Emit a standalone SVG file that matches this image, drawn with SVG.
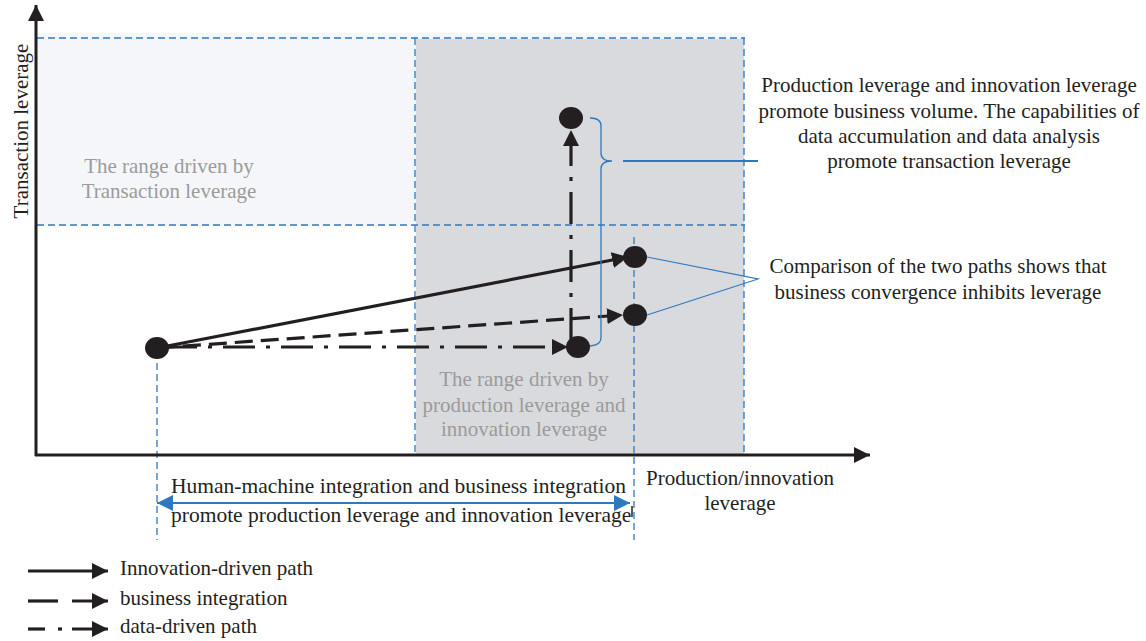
<svg xmlns="http://www.w3.org/2000/svg" width="1146" height="641" viewBox="0 0 1146 641">
  <style>
    text { font-family: "Liberation Serif", "Times New Roman", serif; font-size: 21px; fill: #231f20; }
    .muted { fill: #9b9b9b; }
    .mid { text-anchor: middle; }
    .wide { font-size: 21.5px; }
    .grid { fill: none; stroke: #2e78c2; stroke-width: 1.3; stroke-dasharray: 7 4; }
    .blue { fill: none; stroke: #2e78c2; }
    .axis { fill: none; stroke: #231f20; stroke-width: 3; }
    .path { fill: none; stroke: #231f20; stroke-width: 3.2; }
    .dash { stroke-dasharray: 18 8; }
    .dashdot { stroke-dasharray: 32 11 4 11; }
    .node { fill: #231f20; }
  </style>
  <defs>
    <marker id="head" markerUnits="userSpaceOnUse" markerWidth="17" markerHeight="16" refX="16" refY="8" orient="auto">
      <path d="M0,0 L16,8 L0,16 Z" fill="#231f20"/>
    </marker>
    <marker id="axisHead" markerUnits="userSpaceOnUse" markerWidth="17" markerHeight="16" refX="16" refY="8" orient="auto">
      <path d="M0,0 L16,8 L0,16 Z" fill="#231f20"/>
    </marker>
    <marker id="blueHead" markerUnits="userSpaceOnUse" markerWidth="17" markerHeight="16" refX="16" refY="8" orient="auto-start-reverse">
      <path d="M0,0 L16,8 L0,16 Z" fill="#2e78c2"/>
    </marker>
  </defs>

  <!-- shaded regions -->
  <g id="regions">
    <rect x="37" y="33" width="708" height="193" fill="#f5f6f9"/>
    <rect x="416" y="39" width="328" height="417" fill="#d9dadd"/>
  </g>

  <!-- region boundaries and guide lines -->
  <g id="guides">
    <line class="grid" x1="37" y1="38" x2="745" y2="38"/>
    <line class="grid" x1="37" y1="225" x2="745" y2="225"/>
    <line class="grid" x1="415" y1="38" x2="415" y2="455"/>
    <line class="grid" x1="744" y1="38" x2="744" y2="455"/>
    <line class="grid" x1="157" y1="352" x2="157" y2="540"/>
    <line class="grid" x1="634" y1="237" x2="634" y2="540"/>
  </g>

  <!-- axes -->
  <g id="axes">
    <line class="axis" x1="36" y1="456" x2="36" y2="5" marker-end="url(#axisHead)"/>
    <line class="axis" x1="35" y1="455" x2="870" y2="455" marker-end="url(#axisHead)"/>
    <text class="mid" transform="translate(28,131) rotate(-90)">Transaction leverage</text>
    <text class="mid" x="740" y="485">Production/innovation</text>
    <text class="mid" x="740" y="510">leverage</text>
  </g>

  <!-- region labels -->
  <g id="region-labels">
    <text class="muted mid" x="169" y="173">The range driven by</text>
    <text class="muted mid" x="169" y="198">Transaction leverage</text>
    <text class="muted mid" x="524" y="386">The range driven by</text>
    <text class="muted mid" x="524" y="412">production leverage and</text>
    <text class="muted mid" x="524" y="436">innovation leverage</text>
  </g>

  <!-- paths between states -->
  <g id="connectors">
    <line class="path" x1="157" y1="348" x2="628" y2="257" marker-end="url(#head)"/>
    <line class="path dash" x1="157" y1="348" x2="623" y2="315" marker-end="url(#head)"/>
    <line class="path dashdot" x1="165" y1="347" x2="568" y2="347" marker-end="url(#head)"/>
    <line class="path dashdot" x1="571" y1="340" x2="571" y2="130" marker-end="url(#head)"/>
    <!-- annotations -->
    <path class="blue" stroke-width="1.3" d="M590,118 Q601,118 601,126 L601,153 Q601,161 612,161 Q601,161 601,169 L601,338 Q601,345 590,346"/>
    <line class="blue" stroke-width="2" x1="623" y1="161" x2="758" y2="161"/>
    <polyline class="blue" stroke-width="1.2" points="647,257 758,279 647,315"/>
    <line class="blue" stroke-width="2" x1="157" y1="503" x2="630" y2="503" marker-start="url(#blueHead)" marker-end="url(#blueHead)"/>
    <line x1="632" y1="506" x2="632" y2="517" stroke="#231f20" stroke-width="1.5"/>
  </g>

  <!-- state nodes -->
  <g id="node-start"><ellipse class="node" cx="157" cy="348" rx="12" ry="11"/></g>
  <g id="node-data"><ellipse class="node" cx="578" cy="347" rx="12" ry="11"/></g>
  <g id="node-transaction"><ellipse class="node" cx="571" cy="118" rx="12" ry="11"/></g>
  <g id="node-innovation"><ellipse class="node" cx="635" cy="257" rx="12" ry="11"/></g>
  <g id="node-business"><ellipse class="node" cx="635" cy="315" rx="12" ry="11"/></g>

  <!-- annotation texts -->
  <g id="note-transaction">
    <text class="mid" x="949" y="92">Production leverage and innovation leverage</text>
    <text class="mid" x="949" y="118">promote business volume. The capabilities of</text>
    <text class="mid" x="949" y="143">data accumulation and data analysis</text>
    <text class="mid" x="949" y="168">promote transaction leverage</text>
  </g>
  <g id="note-comparison">
    <text class="mid" x="938" y="273">Comparison of the two paths shows that</text>
    <text class="mid" x="938" y="299">business convergence inhibits leverage</text>
  </g>
  <g id="note-integration">
    <text class="wide" x="171" y="493">Human-machine integration and business integration</text>
    <text class="wide" x="171" y="522">promote production leverage and innovation leverage</text>
  </g>

  <!-- legend -->
  <g id="legend">
    <line class="path" stroke-width="4" x1="28" y1="571" x2="108" y2="571" marker-end="url(#head)"/>
    <text x="120" y="575">Innovation-driven path</text>
    <line class="path" stroke-width="4" x1="28" y1="601" x2="58" y2="601"/>
    <line class="path" stroke-width="4" x1="72" y1="601" x2="108" y2="601" marker-end="url(#head)"/>
    <text x="120" y="605">business integration</text>
    <line class="path" stroke-width="4" x1="28" y1="629" x2="45" y2="629"/>
    <line class="path" stroke-width="4" x1="58" y1="629" x2="62" y2="629"/>
    <line class="path" stroke-width="4" x1="72" y1="629" x2="108" y2="629" marker-end="url(#head)"/>
    <text x="120" y="633">data-driven path</text>
  </g>
</svg>
